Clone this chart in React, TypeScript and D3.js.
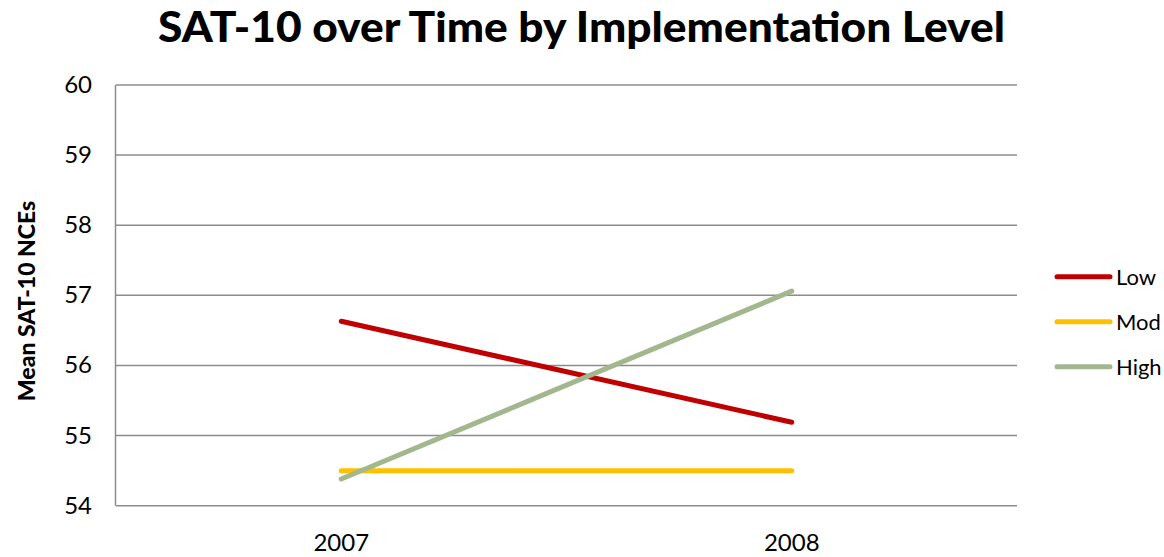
import React from "react";
import * as d3 from "d3";

const years = ["2007", "2008"];
const lowValues = [56.63, 55.19];
const modValues = [54.5, 54.5];
const highValues = [54.38, 57.06];
const seriesNames = ["Low", "Mod", "High"];
const seriesColors = ["#C00000", "#FFC000", "#A3B78F"];
const yTicks = [54, 55, 56, 57, 58, 59, 60];

const W = 1164;
const H = 557;
const plot = { left: 116, right: 1017, top: 85, bottom: 505.7 };
const FONT = "Lato, 'DejaVu Sans', sans-serif";

export default function App() {
  const x = d3.scaleBand<string>().domain(years).range([plot.left, plot.right]).padding(0);
  const y = d3.scaleLinear().domain([54, 60]).range([plot.bottom, plot.top]);
  const allSeries = [lowValues, modValues, highValues];
  const line = d3
    .line<number>()
    .x((_, i) => (x(years[i]) as number) + x.bandwidth() / 2)
    .y((d) => y(d));

  const legendY = [276.7, 321.7, 366.7];

  return (
    <svg
      width={W}
      height={H}
      style={{ position: "absolute", left: 0, top: 0, background: "#fff" }}
    >
      <text
        x={581.5}
        y={42}
        textAnchor="middle"
        fontFamily={FONT}
        fontWeight="900"
        fontSize={42}
        textLength={847}
        lengthAdjust="spacingAndGlyphs"
        fill="#000"
      >
        SAT-10 over Time by Implementation Level
      </text>

      {yTicks.map((t) => (
        <g key={t}>
          <line
            x1={plot.left}
            x2={plot.right}
            y1={y(t)}
            y2={y(t)}
            stroke="#8c8c8c"
            strokeWidth={1.5}
          />
          <text
            x={92}
            y={y(t) + 8}
            textAnchor="end"
            fontFamily={FONT}
            fontSize={24}
            fill="#000"
          >
            {t}
          </text>
        </g>
      ))}
      <line
        x1={plot.left - 0.5}
        x2={plot.left - 0.5}
        y1={plot.top}
        y2={plot.bottom}
        stroke="#8c8c8c"
        strokeWidth={1.5}
      />

      {years.map((yr) => (
        <text
          key={yr}
          x={(x(yr) as number) + x.bandwidth() / 2}
          y={551}
          textAnchor="middle"
          fontFamily={FONT}
          fontSize={24}
          fill="#000"
        >
          {yr}
        </text>
      ))}

      <text
        transform={`translate(35, 301) rotate(-90)`}
        textAnchor="middle"
        fontFamily={FONT}
        fontWeight="900"
        fontSize={23}
        fill="#000"
      >
        Mean SAT-10 NCEs
      </text>

      {allSeries.map((vals, i) => (
        <path
          key={seriesNames[i]}
          d={line(vals) || ""}
          fill="none"
          stroke={seriesColors[i]}
          strokeWidth={5}
          strokeLinecap="round"
        />
      ))}

      {seriesNames.map((n, i) => (
        <g key={n}>
          <line
            x1={1057}
            x2={1110}
            y1={legendY[i]}
            y2={legendY[i]}
            stroke={seriesColors[i]}
            strokeWidth={5}
            strokeLinecap="round"
          />
          <text
            x={1116}
            y={legendY[i] + 8}
            fontFamily={FONT}
            fontSize={22}
            fill="#000"
          >
            {n}
          </text>
        </g>
      ))}
    </svg>
  );
}
